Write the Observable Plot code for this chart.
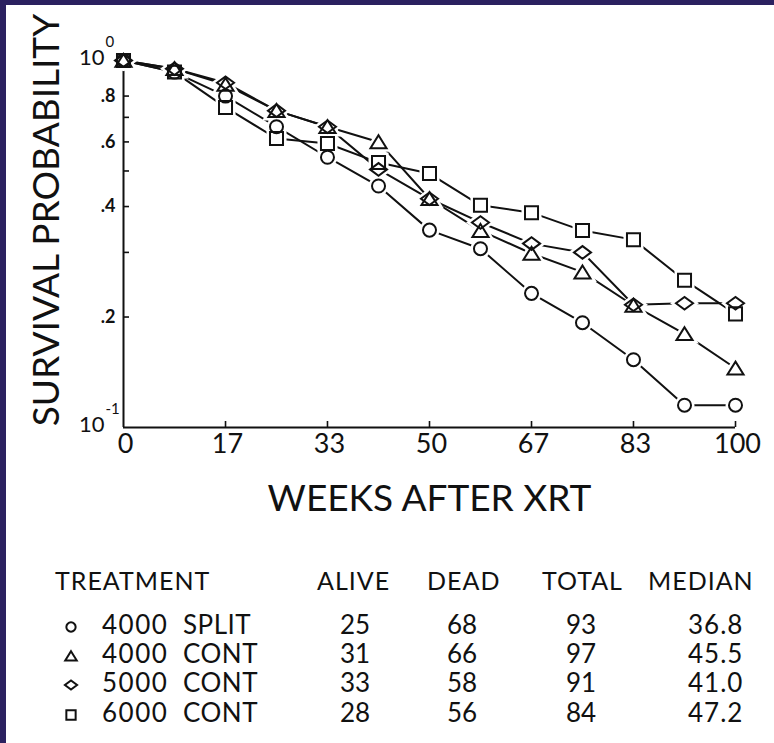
<!DOCTYPE html>
<html><head><meta charset="utf-8">
<script src="https://cdn.jsdelivr.net/npm/d3@7"></script>
<script src="https://cdn.jsdelivr.net/npm/@observablehq/plot@0.6"></script>
<style>
html,body{margin:0;padding:0;background:#fff;}
#wrap{position:relative;width:774px;height:743px;overflow:hidden;background:#fff;font-family:Lato,sans-serif;}
#wrap svg{display:block;}
.bar{position:absolute;background:#2b2160;}
</style></head><body>
<div id="wrap"><div id="chart"></div><div id="legend"></div>
<div class="bar" style="left:0;top:0;width:774px;height:5px"></div>
<div class="bar" style="left:0;top:0;width:6px;height:743px"></div>
</div>
<script>
// ---- data ----
const weeks = [0, 8.33, 16.67, 25, 33.33, 41.67, 50, 58.33, 66.67, 75, 83.33, 91.67, 100];
const split4000 = [1.0, 0.93, 0.80, 0.66, 0.545, 0.455, 0.345, 0.307, 0.232, 0.193, 0.153, 0.115, 0.115];
const cont4000  = [1.0, 0.95, 0.86, 0.73, 0.66, 0.60, 0.42, 0.344, 0.298, 0.265, 0.215, 0.18, 0.145];
const cont5000  = [1.0, 0.95, 0.87, 0.73, 0.66, 0.505, 0.42, 0.362, 0.317, 0.30, 0.216, 0.218, 0.218];
const cont6000  = [1.0, 0.93, 0.745, 0.613, 0.594, 0.527, 0.492, 0.403, 0.385, 0.344, 0.325, 0.252, 0.204];

const treatments = ["4000 SPLIT", "4000 CONT", "5000 CONT", "6000 CONT"];
const symbolsKind = ["circle", "triangle", "diamond", "square"];
const alive  = [25, 31, 33, 28];
const dead   = [68, 66, 58, 56];
const total  = [93, 97, 91, 84];
const median = ["36.8", "45.5", "41.0", "47.2"];
const tableHeaders = ["TREATMENT", "ALIVE", "DEAD", "TOTAL", "MEDIAN"];

const xTickVals = [0, 16.67, 33.33, 50, 66.67, 83.33, 100];
const xTickLabels = ["0", "17", "33", "50", "67", "83", "100"];
const yMinorTicks = [0.2, 0.3, 0.4, 0.5, 0.6, 0.7, 0.8];
const yDecimalTicks = [0.8, 0.6, 0.4, 0.2];
const yDecimalLabels = [".8", ".6", ".4", ".2"];
const yPowerTicks = [1, 0.1];
const yPowerBase = ["10", "10"];
const yPowerExp = ["0", "-1"];
const xTitle = "WEEKS AFTER XRT";
const yTitle = "SURVIVAL PROBABILITY";

// ---- symbols ----
function makeSym(kind) {
  return {draw(ctx, size) {
    const r = Math.sqrt(size / Math.PI);
    if (kind === "circle") { const k = 0.93 * r; ctx.moveTo(k, 0); ctx.arc(0, 0, k, 0, 2 * Math.PI); }
    else if (kind === "triangle") { ctx.moveTo(0, -0.95 * r); ctx.lineTo(1.15 * r, 0.9 * r); ctx.lineTo(-1.15 * r, 0.9 * r); ctx.closePath(); }
    else if (kind === "diamond") { ctx.moveTo(1.22 * r, 0); ctx.lineTo(0, 0.9 * r); ctx.lineTo(-1.22 * r, 0); ctx.lineTo(0, -0.9 * r); ctx.closePath(); }
    else { const k = 0.93 * r; ctx.moveTo(-k, -k); ctx.lineTo(k, -k); ctx.lineTo(k, k); ctx.lineTo(-k, k); ctx.closePath(); }
  }};
}
const seriesValues = [split4000, cont4000, cont5000, cont6000];
const rows = [];
seriesValues.forEach((vals, s) => vals.forEach((v, i) => rows.push({treatment: treatments[s], week: weeks[i], p: v})));

const ink = "#111";
const halos = treatments.map((t, s) => Plot.dot(rows.filter(d => d.treatment === t), {
  x: "week", y: "p", r: 7, symbol: makeSym(symbolsKind[s]), fill: "white", stroke: "white", strokeWidth: 7
}));
const dots = treatments.map((t, s) => Plot.dot(rows.filter(d => d.treatment === t), {
  x: "week", y: "p", r: 7, symbol: makeSym(symbolsKind[s]), fill: "none", stroke: ink, strokeWidth: 2
}));

const chart = Plot.plot({
  width: 774, height: 540,
  marginLeft: 123, marginRight: 39, marginTop: 60, marginBottom: 113,
  x: {domain: [0, 100], axis: null},
  y: {type: "log", domain: [0.1, 1], axis: null},
  style: {fontFamily: "Lato, sans-serif", background: "white", color: ink},
  marks: [
    Plot.ruleX([0], {stroke: ink, strokeWidth: 2}),
    Plot.ruleY([0.1], {stroke: ink, strokeWidth: 2}),
    Plot.ruleX(xTickVals.slice(1), {x: d => d, y1: 0.1, y2: 0.1, insetTop: -6, stroke: ink, strokeWidth: 1.6}),
    Plot.ruleY(yMinorTicks, {y: d => d, x1: 0, x2: 0, insetRight: -6, stroke: ink, strokeWidth: 1.6}),
    Plot.text(xTickVals, {x: d => d, y: 0.1, text: (d, i) => xTickLabels[i], dy: 17, dx: 2, fontSize: 27, fill: ink}),
    Plot.text(yDecimalTicks, {x: 0, y: d => d, text: (d, i) => yDecimalLabels[i], textAnchor: "end", dx: -8, fontSize: 18, fontWeight: "bold", fill: ink}),
    Plot.text(yPowerTicks, {x: 0, y: d => d, text: (d, i) => yPowerBase[i], textAnchor: "end", dx: -19, dy: -3, fontSize: 22, fill: ink}),
    Plot.text(yPowerTicks, {x: 0, y: d => d, text: (d, i) => yPowerExp[i], textAnchor: "start", dx: -18, dy: -18, fontSize: 15, fill: ink}),
    Plot.text([yTitle], {text: d => d, frameAnchor: "left", textAnchor: "middle", lineAnchor: "middle", rotate: -90, dx: -76.5, dy: -24, fontSize: 37, fill: ink}),
    Plot.text([xTitle], {text: d => d, frameAnchor: "bottom", textAnchor: "middle", lineAnchor: "middle", dy: 71.5, fontSize: 37, fill: ink}),
    Plot.line(rows, {x: "week", y: "p", z: "treatment", stroke: ink, strokeWidth: 2}),
    ...halos,
    ...dots
  ]
});
document.getElementById("chart").appendChild(chart);

// ---- legend table ----
const headerX = [55, 317, 427, 542, 648];
const rowBase = [94, 123, 152, 182];
const leg = d3.select("#legend").append("svg").attr("width", 774).attr("height", 203);
const g = leg.append("g").attr("font-family", "Lato, sans-serif").attr("fill", ink);
g.selectAll("text.h").data(tableHeaders).join("text").attr("class", "h")
  .attr("x", (d, i) => headerX[i]).attr("y", 50).attr("font-size", 25).attr("letter-spacing", 1).text(d => d);
treatments.forEach((t, i) => {
  const y = rowBase[i];
  const [dose, kind] = t.split(" ");
  leg.append("path").attr("transform", `translate(71,${y - 7})`)
    .attr("d", d3.symbol().type(makeSym(symbolsKind[i])).size(Math.PI * 5 * 5)())
    .attr("fill", "none").attr("stroke", ink).attr("stroke-width", 2);
  g.append("text").attr("x", 102).attr("y", y).attr("font-size", 26).attr("letter-spacing", 1.5).text(dose);
  g.append("text").attr("x", 183).attr("y", y).attr("font-size", 26).attr("letter-spacing", 0.5).text(kind);
  g.append("text").attr("x", 355).attr("y", y).attr("font-size", 26).attr("text-anchor", "middle").text(alive[i]);
  g.append("text").attr("x", 462).attr("y", y).attr("font-size", 26).attr("text-anchor", "middle").text(dead[i]);
  g.append("text").attr("x", 581).attr("y", y).attr("font-size", 26).attr("text-anchor", "middle").text(total[i]);
  g.append("text").attr("x", 688).attr("y", y).attr("font-size", 26).attr("letter-spacing", 1).text(median[i]);
});
</script>
</body></html>
